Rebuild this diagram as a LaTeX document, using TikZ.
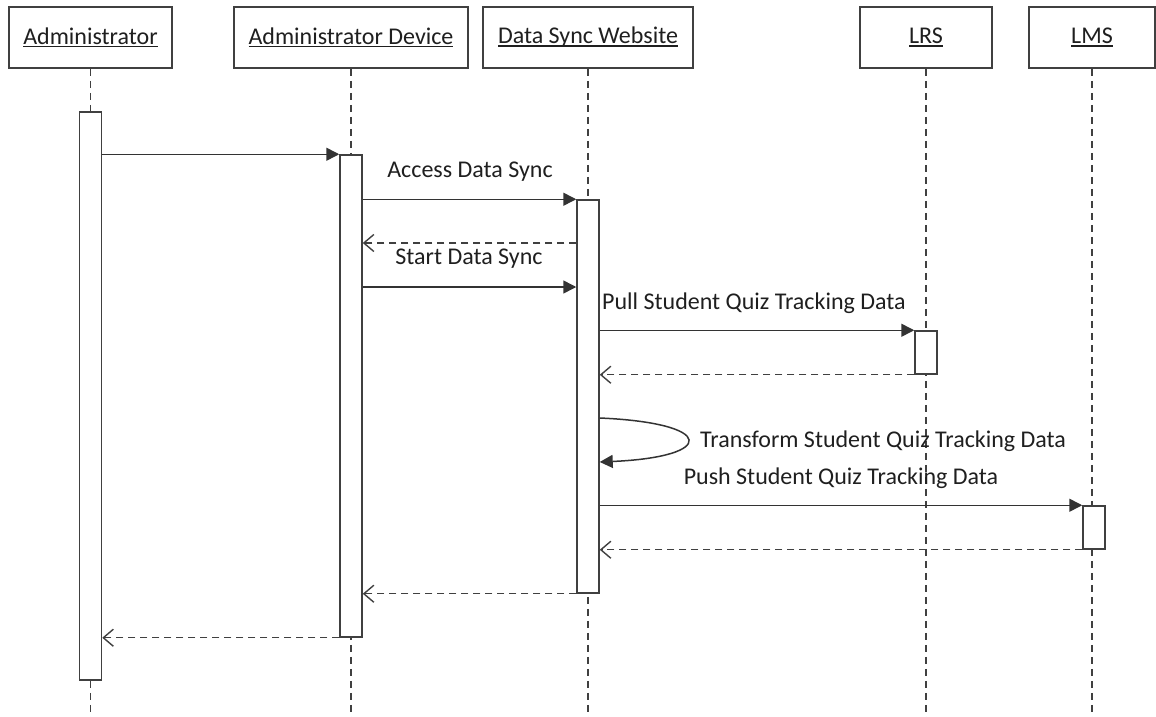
\documentclass[tikz,border=0pt]{standalone}
\usepackage{fontspec}
\setmainfont{Carlito}
\usetikzlibrary{arrows.meta}
\newcommand\hdrtext[1]{\setbox0\hbox{#1}\rlap{\copy0}\rule[-3pt]{\wd0}{1.4pt}}
\begin{document}
\begin{tikzpicture}[x=1pt,y=-1pt,
  every node/.style={font=\fontsize{24}{28}\selectfont, text=black!88},
  header/.style={draw=black!75, line width=1.5pt, minimum height=61pt, inner sep=0pt, fill=white},
  act/.style={draw=black!75, line width=1.5pt, minimum width=22pt, inner sep=0pt, fill=white},
  life/.style={draw=black!75, line width=1.4pt, dash pattern=on 7pt off 5pt},
  msg/.style={draw=black!80, line width=1.5pt, -{Triangle[length=13pt,width=13pt]}},
  ret/.style={draw=black!75, line width=1.4pt, dash pattern=on 7pt off 5pt, -{Straight Barb[length=10pt,width=17pt]}},
  lbl/.style={inner sep=0pt}
]
\useasboundingbox (0,0) rectangle (1156,717);
\coordinate (bot) at (0,717);
% headers
\node[header, minimum width=163pt] (hA) at (90.5,37.5) {\hdrtext{Administrator}};
\node[header, minimum width=234pt] (hD) at (351,37.5) {\hdrtext{Administrator Device}};
\node[header, minimum width=210pt] (hS) at (588,37.5) {\hdrtext{Data Sync Website}};
\node[header, minimum width=132pt] (hL) at (926,37.5) {\hdrtext{LRS}};
\node[header, minimum width=126pt] (hM) at (1092,37.5) {\hdrtext{LMS}};
% lifelines
\draw[life] (hA.south) -- (hA.south |- bot);
\draw[life] (hD.south) -- (hD.south |- bot);
\draw[life] (hS.south) -- (hS.south |- bot);
\draw[life] (hL.south) -- (hL.south |- bot);
\draw[life] (hM.south) -- (hM.south |- bot);
% activations
\node[act, minimum height=568pt] (aA) at (90.5,396) {};
\node[act, minimum height=482pt] (aD) at (351,396) {};
\node[act, minimum height=393pt] (aS) at (588,396.5) {};
\node[act, minimum height=43pt] (aL) at (926,352.5) {};
\node[act, minimum height=43pt] (aM) at (1094,527.5) {};
% message levels
\coordinate (y3) at (0,243);
\coordinate (y4) at (0,287);
\coordinate (y7a) at (0,418);
\coordinate (y7b) at (0,462);
% messages
\draw[msg] (aA.east |- aD.north) -- (aD.north west);
\draw[msg] (aD.east |- aS.north) -- (aS.north west);
\draw[ret] (aS.west |- y3) -- (aD.east |- y3);
\draw[msg] (aD.east |- y4) -- (aS.west |- y4);
\draw[msg] (aS.east |- aL.north) -- (aL.north west);
\draw[ret] (aL.south west) -- (aS.east |- aL.south);
\draw[msg] (aS.east |- y7a) .. controls +(117,5) and +(117,-5) .. (aS.east |- y7b);
\draw[msg] (aS.east |- aM.north) -- (aM.north west);
\draw[ret] (aM.south west) -- (aS.east |- aM.south);
\draw[ret] (aS.south west) -- (aD.east |- aS.south);
\draw[ret] (aD.south west) -- (aA.east |- aD.south);
% labels
\node[lbl] (l1) at (470,172) {Access Data Sync};
\node[lbl] (l2) at (469,259) {Start Data Sync};
\node[lbl, anchor=west] (l3) at (602,303) {Pull Student Quiz Tracking Data};
\node[lbl, anchor=west] (l4) at (700,441) {Transform Student Quiz Tracking Data};
\node[lbl] (l5) at (841,478) {Push Student Quiz Tracking Data};
\end{tikzpicture}
\end{document}
